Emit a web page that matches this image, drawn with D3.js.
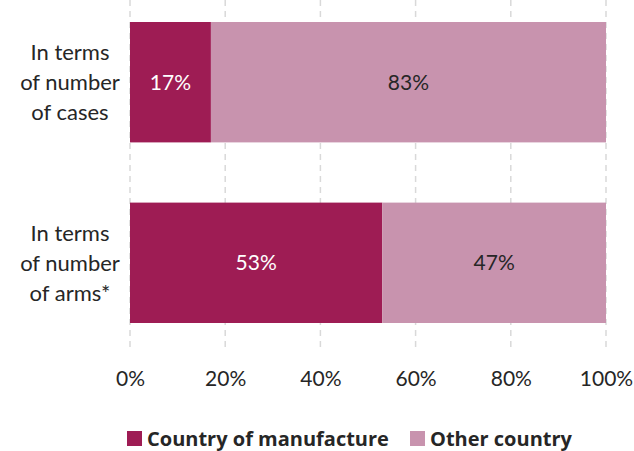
<!DOCTYPE html>
<html lang="en">
  <head>
    <meta charset="utf-8">
    <title>Country of manufacture</title>
    <script type="text/javascript" src="https://cdn.jsdelivr.net/npm/d3@7"></script>
    <style>
      body { margin: 0; background: #fff; }
      text { font-family: Lato, "Open Sans", sans-serif; fill: #262626; }
    </style>
  </head>
  <body>
    <script type="text/javascript">
    // chart data
    var categories = ["cases", "arms"];
    var categoryLines = [["In terms", "of number", "of cases"], ["In terms", "of number", "of arms*"]];
    var seriesNames = ["Country of manufacture", "Other country"];
    var manufacture = [17, 53];
    var other = [83, 47];
    var xTicks = [0, 20, 40, 60, 80, 100];
    var colors = ["#9e1c54", "#c893ae"];
    var labelColors = ["#ffffff", "#262626"];

    var w = 634;
    var h = 451;

    var svg = d3.select("body")
                .append("svg")
                .attr("width", w)
                .attr("height", h);

    var xScale = d3.scaleLinear()
                   .domain([0, 100])
                   .range([130, 606]);

    var yScale = d3.scaleBand()
                   .domain(categories)
                   .range([22, 323])
                   .paddingInner(1 / 3)
                   .paddingOuter(0);

    // dashed gridlines
    svg.selectAll("line.grid")
       .data(xTicks)
       .enter()
       .append("line")
       .attr("class", "grid")
       .attr("x1", function(d) { return xScale(d); })
       .attr("x2", function(d) { return xScale(d); })
       .attr("y1", 0)
       .attr("y2", 352)
       .attr("stroke", "#d9d9d9")
       .attr("stroke-width", 1.5)
       .attr("stroke-dasharray", "6,5");

    // stack the two series
    var rows = categories.map(function(c, i) {
      return { cat: c, manufacture: manufacture[i], other: other[i] };
    });
    var stacked = d3.stack().keys(["manufacture", "other"])(rows);

    var layers = svg.selectAll("g.layer")
       .data(stacked)
       .enter()
       .append("g")
       .attr("class", "layer");

    layers.each(function(layer, li) {
      var g = d3.select(this);
      g.selectAll("rect")
       .data(layer)
       .enter()
       .append("rect")
       .attr("x", function(d) { return xScale(d[0]); })
       .attr("width", function(d) { return xScale(d[1]) - xScale(d[0]); })
       .attr("y", function(d) { return yScale(d.data.cat); })
       .attr("height", yScale.bandwidth())
       .attr("fill", colors[li]);

      g.selectAll("text")
        .data(layer)
        .enter()
        .append("text")
        .attr("x", function(d) { return xScale((d[0] + d[1]) / 2); })
        .attr("y", function(d) { return yScale(d.data.cat) + yScale.bandwidth() / 2; })
        .attr("dy", "0.35em")
        .attr("text-anchor", "middle")
        .style("font-size", "21px")
        .style("fill", labelColors[li])
        .text(function(d) { return (d[1] - d[0]) + "%"; });
    });

    // category labels
    categories.forEach(function(c, i) {
      var t = svg.append("text")
                 .attr("text-anchor", "middle")
                 .attr("x", 70)
                 .attr("y", yScale(c) + yScale.bandwidth() / 2 - 30)
                 .style("font-size", "22px");
      categoryLines[i].forEach(function(line, j) {
        t.append("tspan")
         .attr("x", 70)
         .attr("dy", j === 0 ? "0.35em" : 30)
         .text(line);
      });
    });

    // x axis labels
    var xAxis = d3.axisBottom(xScale)
                  .tickValues(xTicks)
                  .tickSize(0)
                  .tickPadding(0)
                  .tickFormat(function(d) { return d + "%"; });

    var gx = svg.append("g")
                .attr("transform", "translate(0, 371)")
                .call(xAxis);
    gx.select(".domain").remove();
    gx.selectAll("text")
      .style("font-size", "21px")
      .style("font-family", "Lato, 'Open Sans', sans-serif")
      .attr("fill", "#262626");

    // legend
    var legendX = [127, 410];
    seriesNames.forEach(function(name, i) {
      svg.append("rect")
         .attr("x", legendX[i])
         .attr("y", 431)
         .attr("width", 15)
         .attr("height", 15)
         .attr("fill", colors[i]);
      svg.append("text")
         .attr("x", legendX[i] + 20)
         .attr("y", 438.5)
         .attr("dy", "0.35em")
         .style("font-family", "'Open Sans', sans-serif")
         .style("font-size", "20px")
         .style("font-weight", "bold")
         .text(name);
    });
    </script>
  </body>
</html>
